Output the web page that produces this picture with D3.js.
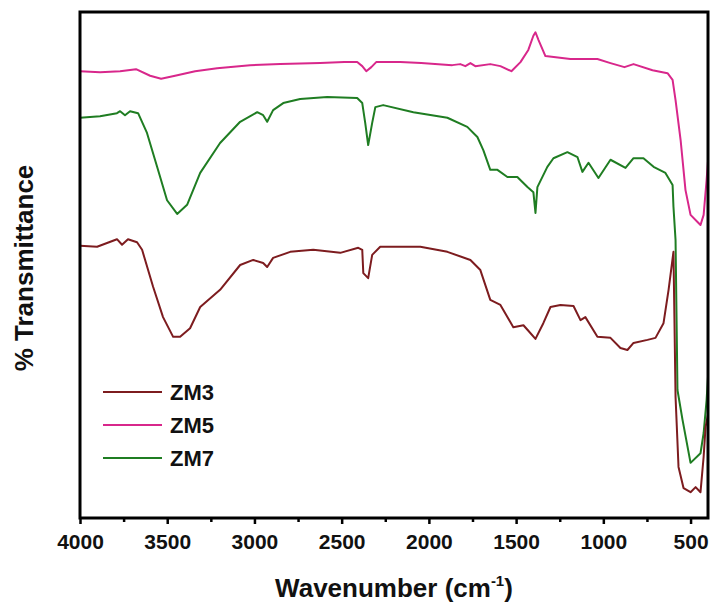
<!DOCTYPE html>
<html>
<head>
<meta charset="utf-8">
<script src="https://d3js.org/d3.v7.min.js"></script>
<style>
  html, body { margin: 0; padding: 0; background: #fff; }
  svg { display: block; }
  text { font-family: "Liberation Sans", Arial, sans-serif; font-weight: bold; fill: #111; }
</style>
</head>
<body>
<svg id="chart" width="710" height="605"></svg>
<script>
// ---- Data (wavenumber in cm^-1, transmittance in arbitrary %T units) ----
const seriesNames = ["ZM3", "ZM5", "ZM7"];
const seriesColors = ["#7d1c1f", "#d8278b", "#1f7d22"];

const zm3Wavenumber = [4000,3902,3788,3759,3725,3673,3644,3581,3524,3466,3426,3369,3311,3197,3082,3007,2950,2927,2893,2795,2663,2508,2405,2382,2376,2348,2325,2279,2049,1894,1762,1705,1648,1590,1516,1458,1435,1389,1344,1303,1246,1171,1131,1103,1034,959,902,862,827,747,701,655,626,598,586,569,540,500,471,443,425,414,400];
const zm3Transmittance = [53.8,53.6,55.1,54.0,55.1,54.5,53.0,45.7,39.7,35.8,35.8,37.5,41.7,45.1,50.0,51.0,50.4,49.6,51.4,52.6,53.0,52.4,53.4,53.0,48.4,47.4,52.0,53.6,53.6,52.6,51.0,49.0,43.1,42.1,37.7,38.1,37.2,35.4,38.5,41.7,42.1,41.9,39.1,39.7,35.8,35.6,33.6,33.2,34.6,35.2,35.6,38.5,45.1,52.6,23.9,10.1,5.9,5.1,6.1,5.1,12.1,18.0,20.4];

const zm5Wavenumber = [4000,3885,3770,3679,3598,3535,3455,3340,3214,3025,2852,2623,2485,2411,2382,2359,2330,2302,2164,2044,1866,1820,1791,1762,1734,1648,1590,1527,1475,1430,1401,1389,1372,1332,1189,1034,959,879,827,718,661,632,603,586,557,529,500,460,443,425,408,400];
const zm5Transmittance = [88.3,88.1,88.3,88.7,87.4,86.8,87.4,88.3,88.9,89.5,89.7,89.9,90.1,90.1,89.3,88.3,89.1,90.1,90.1,89.9,89.5,89.7,89.3,89.9,89.3,89.7,89.3,88.3,90.1,92.5,95.3,96.0,94.5,91.3,90.7,90.7,89.9,89.1,89.7,88.5,88.1,87.9,86.6,82.6,74.7,64.8,59.9,58.5,57.9,59.9,66.8,70.5];

const zm7Wavenumber = [4000,3885,3788,3770,3742,3713,3667,3616,3558,3501,3443,3386,3311,3197,3082,2984,2950,2927,2893,2835,2738,2583,2411,2382,2365,2348,2325,2307,2262,2089,1894,1780,1722,1688,1648,1607,1550,1493,1435,1401,1389,1378,1321,1286,1206,1148,1120,1085,1028,959,873,827,770,712,644,603,598,586,575,546,500,443,425,408,400];
const zm7Transmittance = [79.1,79.4,80.0,80.4,79.6,80.4,80.0,76.1,69.4,62.8,60.1,61.9,68.2,74.1,78.3,80.2,79.6,78.3,80.6,82.0,82.8,83.2,83.0,82.0,78.1,73.7,78.1,81.2,81.6,80.2,79.1,77.3,75.3,72.7,68.8,68.8,67.4,67.4,65.4,64.4,60.3,65.4,69.4,71.1,72.3,71.3,68.4,70.2,67.2,70.8,69.2,71.1,71.1,69.4,68.2,65.8,61.5,54.9,25.3,19.4,10.9,12.8,16.8,23.3,27.9];

const majorTicks = [4000,3500,3000,2500,2000,1500,1000,500];
const minorTicks = [3750,3250,2750,2250,1750,1250,750];
const xDomain = [4000, 400];
const yDomain = [0, 100];

// ---- Layout ----
const mLeft = 80, mRight = 708, mTop = 12, mBottom = 518;
const svg = d3.select("#chart");

const x = d3.scaleLinear().domain(xDomain).range([mLeft, mRight]);
const y = d3.scaleLinear().domain(yDomain).range([mBottom, mTop]);

svg.append("defs").append("clipPath").attr("id", "clip")
  .append("rect").attr("x", mLeft).attr("y", mTop).attr("width", mRight - mLeft).attr("height", mBottom - mTop);

const series = [
  { name: seriesNames[0], color: seriesColors[0], wn: zm3Wavenumber, t: zm3Transmittance },
  { name: seriesNames[1], color: seriesColors[1], wn: zm5Wavenumber, t: zm5Transmittance },
  { name: seriesNames[2], color: seriesColors[2], wn: zm7Wavenumber, t: zm7Transmittance }
];

const line = d3.line()
  .x(d => x(d[0]))
  .y(d => y(d[1]));

const plot = svg.append("g").attr("clip-path", "url(#clip)");
[1, 2, 0].forEach(i => {
  const s = series[i];
  plot.append("path")
    .datum(s.wn.map((w, k) => [w, s.t[k]]))
    .attr("fill", "none")
    .attr("stroke", s.color)
    .attr("stroke-width", 2)
    .attr("stroke-linejoin", "round")
    .attr("d", line);
});

// Axes
const xAxis = d3.axisBottom(x).tickValues(majorTicks).tickSize(6).tickPadding(5).tickFormat(d3.format("d"));
const gx = svg.append("g").attr("transform", `translate(0,${mBottom})`).call(xAxis);
gx.select(".domain").remove();
gx.selectAll(".tick line").attr("stroke", "#000").attr("stroke-width", 2.5);
gx.selectAll(".tick text").style("font-size", "21px").style("font-family", "'Liberation Sans', Arial, sans-serif").style("font-weight", "bold").attr("fill", "#111").attr("dy", "0.95em");

const xMinor = d3.axisBottom(x).tickValues(minorTicks).tickSize(4).tickFormat("");
const gxm = svg.append("g").attr("transform", `translate(0,${mBottom})`).call(xMinor);
gxm.select(".domain").remove();
gxm.selectAll(".tick line").attr("stroke", "#000").attr("stroke-width", 2.5);

// Frame
svg.append("rect")
  .attr("x", mLeft).attr("y", mTop)
  .attr("width", mRight - mLeft).attr("height", mBottom - mTop)
  .attr("fill", "none").attr("stroke", "#000").attr("stroke-width", 3);

// Axis titles
const xt = svg.append("text")
  .attr("x", (mLeft + mRight) / 2).attr("y", 597)
  .attr("text-anchor", "middle")
  .style("font-size", "26px");
xt.append("tspan").text("Wavenumber (cm");
xt.append("tspan").text("-1").style("font-size", "15px").attr("dy", -11);
xt.append("tspan").text(")").attr("dy", 11);

svg.append("text")
  .attr("transform", "translate(33,268) rotate(-90)")
  .attr("text-anchor", "middle")
  .style("font-size", "26px")
  .text("% Transmittance");

// Legend
const legendY = [392, 425, 458];
series.forEach((s, i) => {
  svg.append("line")
    .attr("x1", 103).attr("x2", 162)
    .attr("y1", legendY[i]).attr("y2", legendY[i])
    .attr("stroke", s.color).attr("stroke-width", 2);
  svg.append("text")
    .attr("x", 170).attr("y", legendY[i] + 8)
    .style("font-size", "22px")
    .text(s.name);
});
</script>
</body>
</html>
